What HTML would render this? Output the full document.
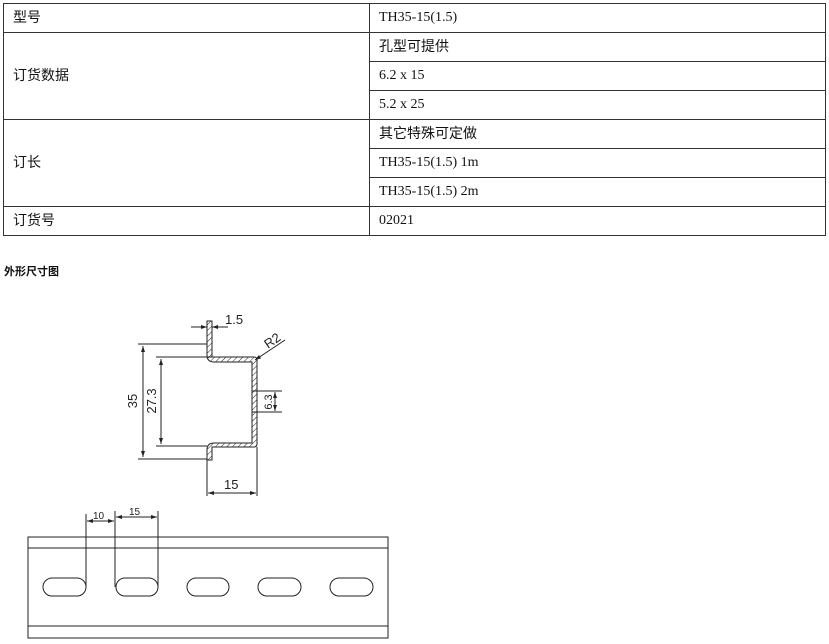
<!DOCTYPE html>
<html><head><meta charset="utf-8"><style>
body{margin:0;width:829px;height:644px;background:#fff;position:relative;overflow:hidden;font-family:"Liberation Serif","Noto Sans CJK SC",serif;color:#111}
.c{position:absolute;font-size:14px;line-height:14px}
.z{font-family:"Liberation Sans","Noto Sans CJK SC",sans-serif}
.h{position:absolute;background:#333;height:1px}
.v{position:absolute;background:#333;width:1px}
</style></head><body>
<div class="h" style="left:3px;top:3px;width:823px"></div>
<div class="h" style="left:3px;top:32px;width:823px"></div>
<div class="h" style="left:369px;top:61px;width:457px"></div>
<div class="h" style="left:369px;top:90px;width:457px"></div>
<div class="h" style="left:3px;top:119px;width:823px"></div>
<div class="h" style="left:369px;top:148px;width:457px"></div>
<div class="h" style="left:369px;top:177px;width:457px"></div>
<div class="h" style="left:3px;top:206px;width:823px"></div>
<div class="h" style="left:3px;top:235px;width:823px"></div>
<div class="v" style="left:3px;top:3px;height:233px"></div>
<div class="v" style="left:369px;top:3px;height:233px"></div>
<div class="v" style="left:825px;top:3px;height:233px"></div>
<div class="c z" style="left:13px;top:10px">型号</div>
<div class="c z" style="left:13px;top:68px">订货数据</div>
<div class="c z" style="left:13px;top:155px">订长</div>
<div class="c z" style="left:13px;top:213px">订货号</div>
<div class="c" style="left:379px;top:11px">TH35-15(1.5)</div>
<div class="c z" style="left:379px;top:39px">孔型可提供</div>
<div class="c" style="left:379px;top:69px">6.2 x 15</div>
<div class="c" style="left:379px;top:98px">5.2 x 25</div>
<div class="c z" style="left:379px;top:126px">其它特殊可定做</div>
<div class="c" style="left:379px;top:156px">TH35-15(1.5) 1m</div>
<div class="c" style="left:379px;top:185px">TH35-15(1.5) 2m</div>
<div class="c" style="left:379px;top:214px">02021</div>
<div class="c z" style="left:4px;top:265px;font-size:11px;font-weight:bold">外形尺寸图</div>
<svg width="829" height="644" style="position:absolute;left:0;top:0" font-family="Liberation Sans, sans-serif">
<defs>
<marker id="a" markerWidth="6" markerHeight="6" refX="6" refY="3" orient="auto-start-reverse"><path d="M0,1 L6,3 L0,5z" fill="#222"/></marker>
<pattern id="p" width="4" height="4" patternUnits="userSpaceOnUse" patternTransform="rotate(45)"><line x1="0" y1="0" x2="0" y2="4" stroke="#222" stroke-width="1"/></pattern>
</defs>
<g stroke="#222" fill="none" stroke-width="1">
<path d="M207,321 V355 Q207,362 214,362 H252 V443 H214 Q207,443 207,450 V460 H212 V447 H254 Q257,447 257,444 V360 Q257,357 254,357 H212 V321 Z" fill="url(#p)"/>
<line x1="138" y1="344" x2="207" y2="344"/>
<line x1="138" y1="459" x2="207" y2="459"/>
<line x1="143" y1="346" x2="143" y2="457" marker-start="url(#a)" marker-end="url(#a)"/>
<line x1="156" y1="357" x2="212" y2="357"/>
<line x1="156" y1="446" x2="207" y2="446"/>
<line x1="161" y1="359" x2="161" y2="444" marker-start="url(#a)" marker-end="url(#a)"/>
<line x1="191" y1="327" x2="207" y2="327" marker-end="url(#a)"/>
<line x1="228" y1="327" x2="212" y2="327" marker-end="url(#a)"/>
<line x1="255" y1="360" x2="285" y2="340" marker-start="url(#a)"/>
<line x1="252" y1="391" x2="282" y2="391"/>
<line x1="252" y1="412" x2="282" y2="412"/>
<line x1="275" y1="392" x2="275" y2="411" marker-start="url(#a)" marker-end="url(#a)"/>
<line x1="207" y1="460" x2="207" y2="496"/>
<line x1="257" y1="447" x2="257" y2="496"/>
<line x1="208" y1="493" x2="256" y2="493" marker-start="url(#a)" marker-end="url(#a)"/>
<rect x="28" y="537" width="360" height="101"/>
<line x1="28" y1="548" x2="388" y2="548"/>
<line x1="28" y1="626" x2="388" y2="626"/>
<rect x="43" y="578" width="43" height="18" rx="9"/>
<rect x="116" y="578" width="42" height="18" rx="9"/>
<rect x="187" y="578" width="42" height="18" rx="9"/>
<rect x="258" y="578" width="43" height="18" rx="9"/>
<rect x="330" y="578" width="43" height="18" rx="9"/>
<line x1="86" y1="514" x2="86" y2="587"/>
<line x1="115" y1="511" x2="115" y2="587"/>
<line x1="158" y1="511" x2="158" y2="587"/>
<line x1="87" y1="521" x2="114" y2="521" marker-start="url(#a)" marker-end="url(#a)"/>
<line x1="116" y1="517" x2="157" y2="517" marker-start="url(#a)" marker-end="url(#a)"/>
</g>
<g fill="#222" font-size="13">
<text x="225" y="324">1.5</text>
<text x="224" y="489">15</text>
<text transform="translate(137,401) rotate(-90)" text-anchor="middle">35</text>
<text transform="translate(156,401) rotate(-90)" text-anchor="middle">27.3</text>
<text transform="translate(272,402) rotate(-90)" text-anchor="middle" font-size="11">6.3</text>
<text transform="translate(268,349) rotate(-35)">R2</text>
<text x="93" y="519" font-size="10">10</text>
<text x="129" y="515" font-size="10">15</text>
</g>
</svg>
</body></html>
